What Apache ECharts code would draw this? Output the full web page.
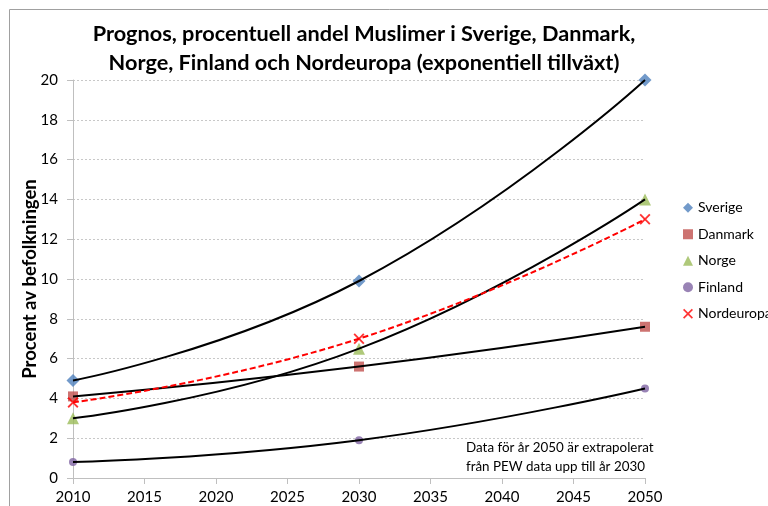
<!DOCTYPE html>
<html><head><meta charset="utf-8">
<script src="https://cdn.jsdelivr.net/npm/echarts@6/dist/echarts.min.js"></script>
<style>html,body{margin:0;padding:0;background:#fff}#c{width:768px;height:506px}</style>
</head><body><div id="c"></div>
<script>
const years = [2010, 2030, 2050];
const sverige = [4.9, 9.9, 20.0];
const danmark = [4.1, 5.6, 7.6];
const norge = [3.0, 6.5, 14.0];
const finland = [0.8, 1.9, 4.5];
const nordeuropa = [3.8, 7.0, 13.0];
const seriesNames = ['Sverige', 'Danmark', 'Norge', 'Finland', 'Nordeuropa'];
const titleLines = ['Prognos, procentuell andel Muslimer i Sverige, Danmark,', 'Norge, Finland och Nordeuropa (exponentiell tillväxt)'];
const yAxisName = 'Procent av befolkningen';
const noteLines = ['Data för år 2050 är extrapolerat', 'från PEW data upp till år 2030'];

const FONT = 'Lato';
const pairs = v => years.map((y, i) => [y, v[i]]);
const xPath = 'path://M0,1.2 L1.2,0 L5,3.8 L8.8,0 L10,1.2 L6.2,5 L10,8.8 L8.8,10 L5,6.2 L1.2,10 L0,8.8 L3.8,5 Z';
const styles = [
  {data: sverige, color: '#4F81BD', symbol: 'diamond', size: 13},
  {data: danmark, color: '#C0504D', symbol: 'rect', size: 10},
  {data: norge, color: '#9BBB59', symbol: 'triangle', size: 12},
  {data: finland, color: '#8064A2', symbol: 'circle', size: 8},
  {data: nordeuropa, color: '#FF0000', symbol: xPath, size: 11}
];
const series = [];
styles.forEach((s, i) => {
  series.push({
    name: seriesNames[i], type: 'scatter', data: pairs(s.data),
    symbol: s.symbol, symbolSize: s.size, itemStyle: {color: s.color}, z: 2
  });
});
styles.forEach((s, i) => {
  const isNord = i === 4;
  series.push({
    type: 'line', data: pairs(s.data), smooth: 0.5, showSymbol: false, silent: true,
    lineStyle: {color: isNord ? '#FF0000' : '#000', width: 2, type: isNord ? [6, 3] : 'solid'},
    z: 3
  });
});

const chart = echarts.init(document.getElementById('c'));
chart.setOption({
  animation: false,
  backgroundColor: '#fff',
  title: {
    text: titleLines.join('\n'), left: 359, top: 15, textAlign: 'center',
    textStyle: {fontFamily: FONT, fontWeight: 'bold', fontSize: 21.7, lineHeight: 29, color: '#000'}
  },
  grid: {left: 73, right: 123, top: 80, bottom: 28},
  legend: {
    orient: 'vertical', left: 683, top: 199, padding: 0, itemGap: 9, itemWidth: 10, itemHeight: 10,
    data: seriesNames,
    textStyle: {fontFamily: FONT, fontSize: 14, lineHeight: 17.5, color: '#000'}
  },
  xAxis: {
    type: 'value', min: 2010, max: 2050, interval: 5,
    axisLine: {show: true, lineStyle: {color: '#BFBFBF', width: 1}},
    axisTick: {show: true, length: 6, lineStyle: {color: '#BFBFBF'}},
    axisLabel: {fontFamily: FONT, fontSize: 15, color: '#000', margin: 12, formatter: v => String(v)},
    splitLine: {show: false}
  },
  yAxis: {
    type: 'value', min: 0, max: 20, interval: 2,
    axisLine: {show: true, lineStyle: {color: '#BFBFBF', width: 1}},
    axisTick: {show: true, length: 6, lineStyle: {color: '#BFBFBF'}},
    axisLabel: {fontFamily: FONT, fontSize: 15, color: '#000', margin: 15},
    splitLine: {show: true, lineStyle: {color: '#C8C8C8', type: [2, 2], width: 1}}
  },
  graphic: [
    {type: 'rect', left: 7, top: 7, shape: {width: 800, height: 600}, style: {fill: 'none', stroke: '#A0A0A0', lineWidth: 1}, silent: true, z: -10},
    {type: 'text', x: 30, y: 279, rotation: Math.PI / 2,
     style: {text: yAxisName, fontFamily: FONT, fontWeight: 'bold', fontSize: 18.5, fill: '#000', align: 'center', verticalAlign: 'middle'}},
    {type: 'text', left: 466, top: 438, style: {text: noteLines.join('\n'), fontFamily: FONT, fontSize: 13.4, lineHeight: 19, fill: '#000'}}
  ],
  series: series
});
</script></body></html>
